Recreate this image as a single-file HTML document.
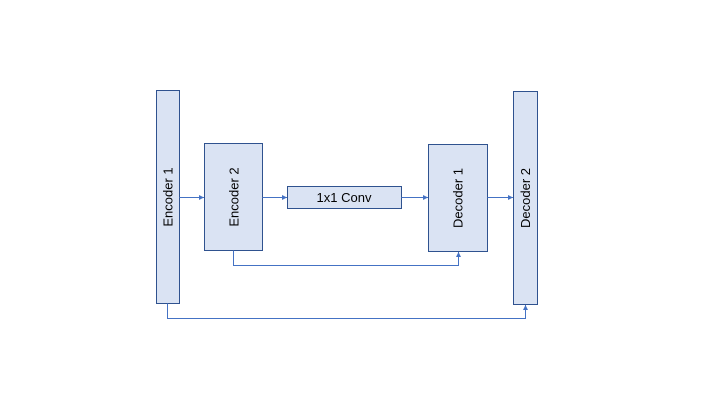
<!DOCTYPE html>
<html><head><style>body{margin:0;background:#fff}</style></head><body>
<svg width="720" height="405" xmlns="http://www.w3.org/2000/svg" font-family="Liberation Sans, sans-serif" font-size="13" fill="#000">
<defs><marker id="a" markerWidth="6" markerHeight="6" refX="5" refY="3" orient="auto"><path d="M0,0.5 L5,3 L0,5.5z" fill="#4472c4"/></marker></defs>
<g fill="#dae3f3" stroke="#2f528f" stroke-width="1">
<rect x="156.5" y="90.5" width="23" height="213"/>
<rect x="204.5" y="143.5" width="58" height="107"/>
<rect x="287.5" y="186.5" width="114" height="22"/>
<rect x="428.5" y="144.5" width="59" height="107"/>
<rect x="513.5" y="91.5" width="24" height="213"/>
</g>
<g stroke="#4472c4" stroke-width="1" fill="none" marker-end="url(#a)">
<line x1="179.5" y1="197.5" x2="204" y2="197.5"/>
<line x1="262.5" y1="197.5" x2="287" y2="197.5"/>
<line x1="401.5" y1="197.5" x2="428" y2="197.5"/>
<line x1="487.5" y1="197.5" x2="513" y2="197.5"/>
<polyline points="233.5,250.5 233.5,265.5 458.5,265.5 458.5,252"/>
<polyline points="167.5,303.5 167.5,318.5 525.5,318.5 525.5,305"/>
</g>
<text transform="translate(172.5,197) rotate(-90)" text-anchor="middle">Encoder 1</text>
<text transform="translate(238.5,197) rotate(-90)" text-anchor="middle">Encoder 2</text>
<text x="344" y="202" text-anchor="middle">1x1 Conv</text>
<text transform="translate(462.5,198) rotate(-90)" text-anchor="middle">Decoder 1</text>
<text transform="translate(530,198) rotate(-90)" text-anchor="middle">Decoder 2</text>
</svg>
</body></html>
